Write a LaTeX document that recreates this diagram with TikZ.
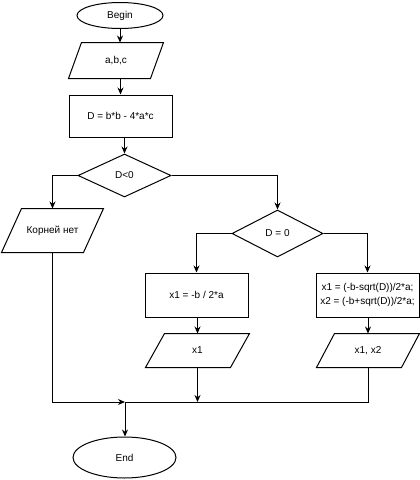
\documentclass[tikz,border=0pt]{standalone}
\usepackage{fontspec}
\setmainfont{Liberation Sans}
\usetikzlibrary{shapes.geometric,arrows.meta}
\newcommand\iobox[2]{\draw ([xshift=#2pt]#1.north west) -- (#1.north east) -- ([xshift=-#2pt]#1.south east) -- (#1.south west) -- cycle;}
\begin{document}
\begin{tikzpicture}[x=1pt,y=-1pt,line width=1pt,font=\fontsize{10}{13.5}\selectfont,
	term/.style={draw,ellipse,inner sep=0pt},
	io/.style={rectangle,inner sep=0pt},
	proc/.style={draw,rectangle,inner sep=0pt,align=center},
	cond/.style={draw,diamond,inner sep=0pt},
	arr/.style={-{Stealth[length=7pt,width=6pt]}}]
		\useasboundingbox (0,0) rectangle (420,480);
		\node[term,minimum width=86pt,minimum height=26pt] (begin) at (120,15.5) {Begin};
		\node[io,minimum width=94pt,minimum height=35pt] (abc) at (116,60.5) {a,b,c};
		\node[proc,minimum width=103pt,minimum height=42pt] (disc) at (120.5,116) {D = b*b - 4*a*c};
		\node[cond,minimum width=93pt,minimum height=43pt] (neg) at (124.5,175.5) {D<0};
		\node[io,minimum width=101pt,minimum height=43pt] (noroot) at (52.5,230.5) {Корней нет};
		\node[cond,minimum width=91pt,minimum height=47pt] (zero) at (277.5,233.5) {D = 0};
		\node[proc,minimum width=103pt,minimum height=44pt] (one) at (196.5,295) {x1 = -b / 2*a};
		\node[proc,minimum width=103pt,minimum height=44pt] (two) at (367.5,295) {x1 = (-b-sqrt(D))/2*a;\\x2 = (-b+sqrt(D))/2*a;};
		\node[io,minimum width=103pt,minimum height=33pt] (outone) at (197.5,350.5) {x1};
		\node[io,minimum width=102pt,minimum height=33pt] (outtwo) at (368,350.5) {x1, x2};
		\node[term,minimum width=103pt,minimum height=41pt] (end) at (124.5,457.5) {End};
		\iobox{abc}{13}
		\iobox{noroot}{20}
		\iobox{outone}{19}
		\iobox{outtwo}{18}
		\coordinate (join) at (125,402);
		\draw[arr] (begin.south) -- (begin.south |- abc.north);
		\draw[arr] (abc.south -| disc.north) -- (disc.north);
		\draw[arr] (disc.south -| neg.north) -- (neg.north);
		\draw[arr] (neg.west) -| (noroot.north);
		\draw[arr] (neg.east) -| (zero.north);
		\draw[arr] (zero.west) -| (one.north);
		\draw[arr] (zero.east) -| (two.north);
		\draw[arr] (one.south -| outone.north) -- (outone.north);
		\draw[arr] (two.south -| outtwo.north) -- (outtwo.north);
		\draw[arr] (noroot.south) |- (join);
		\draw (outtwo.south) |- (join);
		\draw[arr] (outone.south) -- (outone.south |- join);
		\draw[arr] (join) -- (join |- end.north);
\end{tikzpicture}
\end{document}
